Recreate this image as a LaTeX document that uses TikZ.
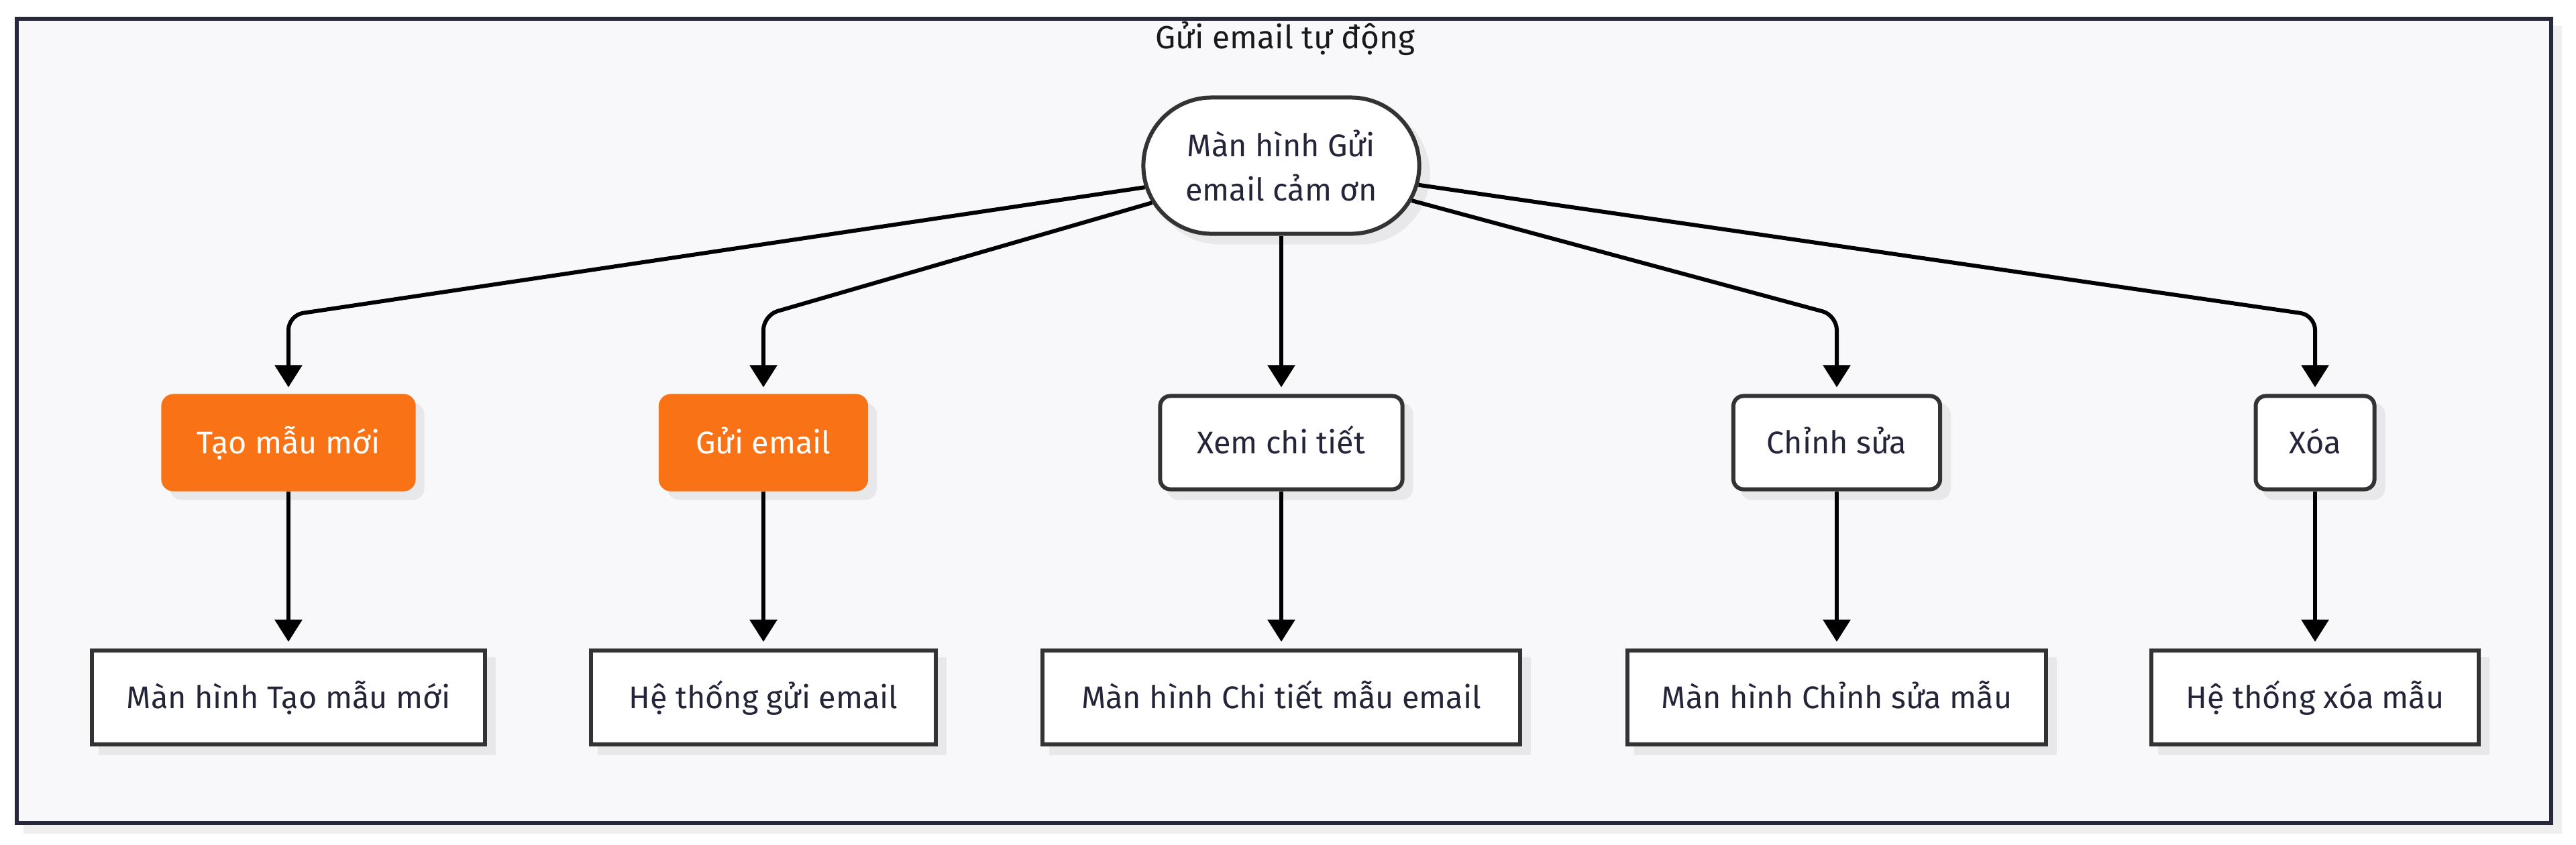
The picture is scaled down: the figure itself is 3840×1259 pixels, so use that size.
\documentclass[tikz,border=0pt]{standalone}
\usepackage{fontspec}
\setmainfont{Fira Sans}
\usetikzlibrary{arrows.meta,shadows,shapes.misc}

\definecolor{framefill}{HTML}{F8F8FA}
\definecolor{frameline}{HTML}{28283C}
\definecolor{framesh}{HTML}{EFEFEF}
\definecolor{boxline}{HTML}{333333}
\definecolor{boxtext}{HTML}{25253A}
\definecolor{orangefill}{HTML}{F97316}
\definecolor{shadowgray}{HTML}{E8E8EA}

\tikzset{
  boxsh/.style={copy shadow={shadow xshift=0.13cm, shadow yshift=-0.13cm, fill=shadowgray, draw=shadowgray}},
  basebox/.style={rectangle, line width=0.06cm, minimum height=1.39cm, inner sep=0pt,
    text height=0.32cm, text depth=0pt, font=\fontsize{13.3}{19}\selectfont, boxsh},
  actnode/.style={basebox, rounded corners=0.15cm, fill=orangefill, draw=orangefill, text=white},
  stepnode/.style={basebox, rounded corners=0.15cm, fill=white, draw=boxline, text=boxtext},
  screennode/.style={basebox, minimum height=1.40cm, fill=white, draw=boxline, text=boxtext},
  hubnode/.style={rounded rectangle, line width=0.06cm, fill=white, draw=boxline, text=boxtext,
    minimum width=4.11cm, minimum height=2.03cm, inner sep=0pt, align=center,
    font=\fontsize{13.3}{19}\selectfont, boxsh},
  flowarrow/.style={draw=black, line width=0.06cm, -{Triangle[length=0.33cm,width=0.40cm]},
    shorten >=0.1cm},
}

\begin{document}
\begin{tikzpicture}[x=0.01cm,y=-0.01cm]
  \useasboundingbox (0,0) rectangle (3840,1259);

  % outer frame
  \fill[framesh] (35,38) rectangle (3819,1243);
  \draw[frameline, line width=0.06cm, fill=framefill] (25,28) rectangle (3803,1227);
  \node[font=\fontsize{13.6}{16}\selectfont, text=black!90] (title) at (1916,57) {Gửi email tự động};

  % nodes
  \node[hubnode] (hub) at (1910,247) {Màn hình Gửi\\email cảm ơn};

  \node[actnode, minimum width=3.73cm] (tao) at (430,660) {Tạo mẫu mới};
  \node[actnode, minimum width=3.06cm] (gui) at (1138,660) {Gửi email};
  \node[stepnode, minimum width=3.61cm] (xem) at (1910,660) {Xem chi tiết};
  \node[stepnode, minimum width=3.08cm] (sua) at (2738,660) {Chỉnh sửa};
  \node[stepnode, minimum width=1.77cm] (xoa) at (3451,660) {Xóa};

  \node[screennode, minimum width=5.86cm] (mhtao) at (430,1040) {Màn hình Tạo mẫu mới};
  \node[screennode, minimum width=5.13cm] (htgui) at (1138,1040) {Hệ thống gửi email};
  \node[screennode, minimum width=7.12cm] (mhxem) at (1910,1040) {Màn hình Chi tiết mẫu email};
  \node[screennode, minimum width=6.23cm] (mhsua) at (2738,1040) {Màn hình Chỉnh sửa mẫu};
  \node[screennode, minimum width=4.87cm] (htxoa) at (3451,1040) {Hệ thống xóa mẫu};

  % connectors
  \coordinate (bend) at (0,470);
  \draw[flowarrow, rounded corners=0.22cm] (hub.189) -- (tao.north |- bend) -- (tao.north);
  \draw[flowarrow, rounded corners=0.22cm] (hub.196) -- (gui.north |- bend) -- (gui.north);
  \draw[flowarrow] (hub.south) -- (xem.north);
  \draw[flowarrow, rounded corners=0.22cm] (hub.345) -- (sua.north |- bend) -- (sua.north);
  \draw[flowarrow, rounded corners=0.22cm] (hub.352) -- (xoa.north |- bend) -- (xoa.north);

  \draw[flowarrow] (tao.south) -- (mhtao.north);
  \draw[flowarrow] (gui.south) -- (htgui.north);
  \draw[flowarrow] (xem.south) -- (mhxem.north);
  \draw[flowarrow] (sua.south) -- (mhsua.north);
  \draw[flowarrow] (xoa.south) -- (htxoa.north);
\end{tikzpicture}
\end{document}
